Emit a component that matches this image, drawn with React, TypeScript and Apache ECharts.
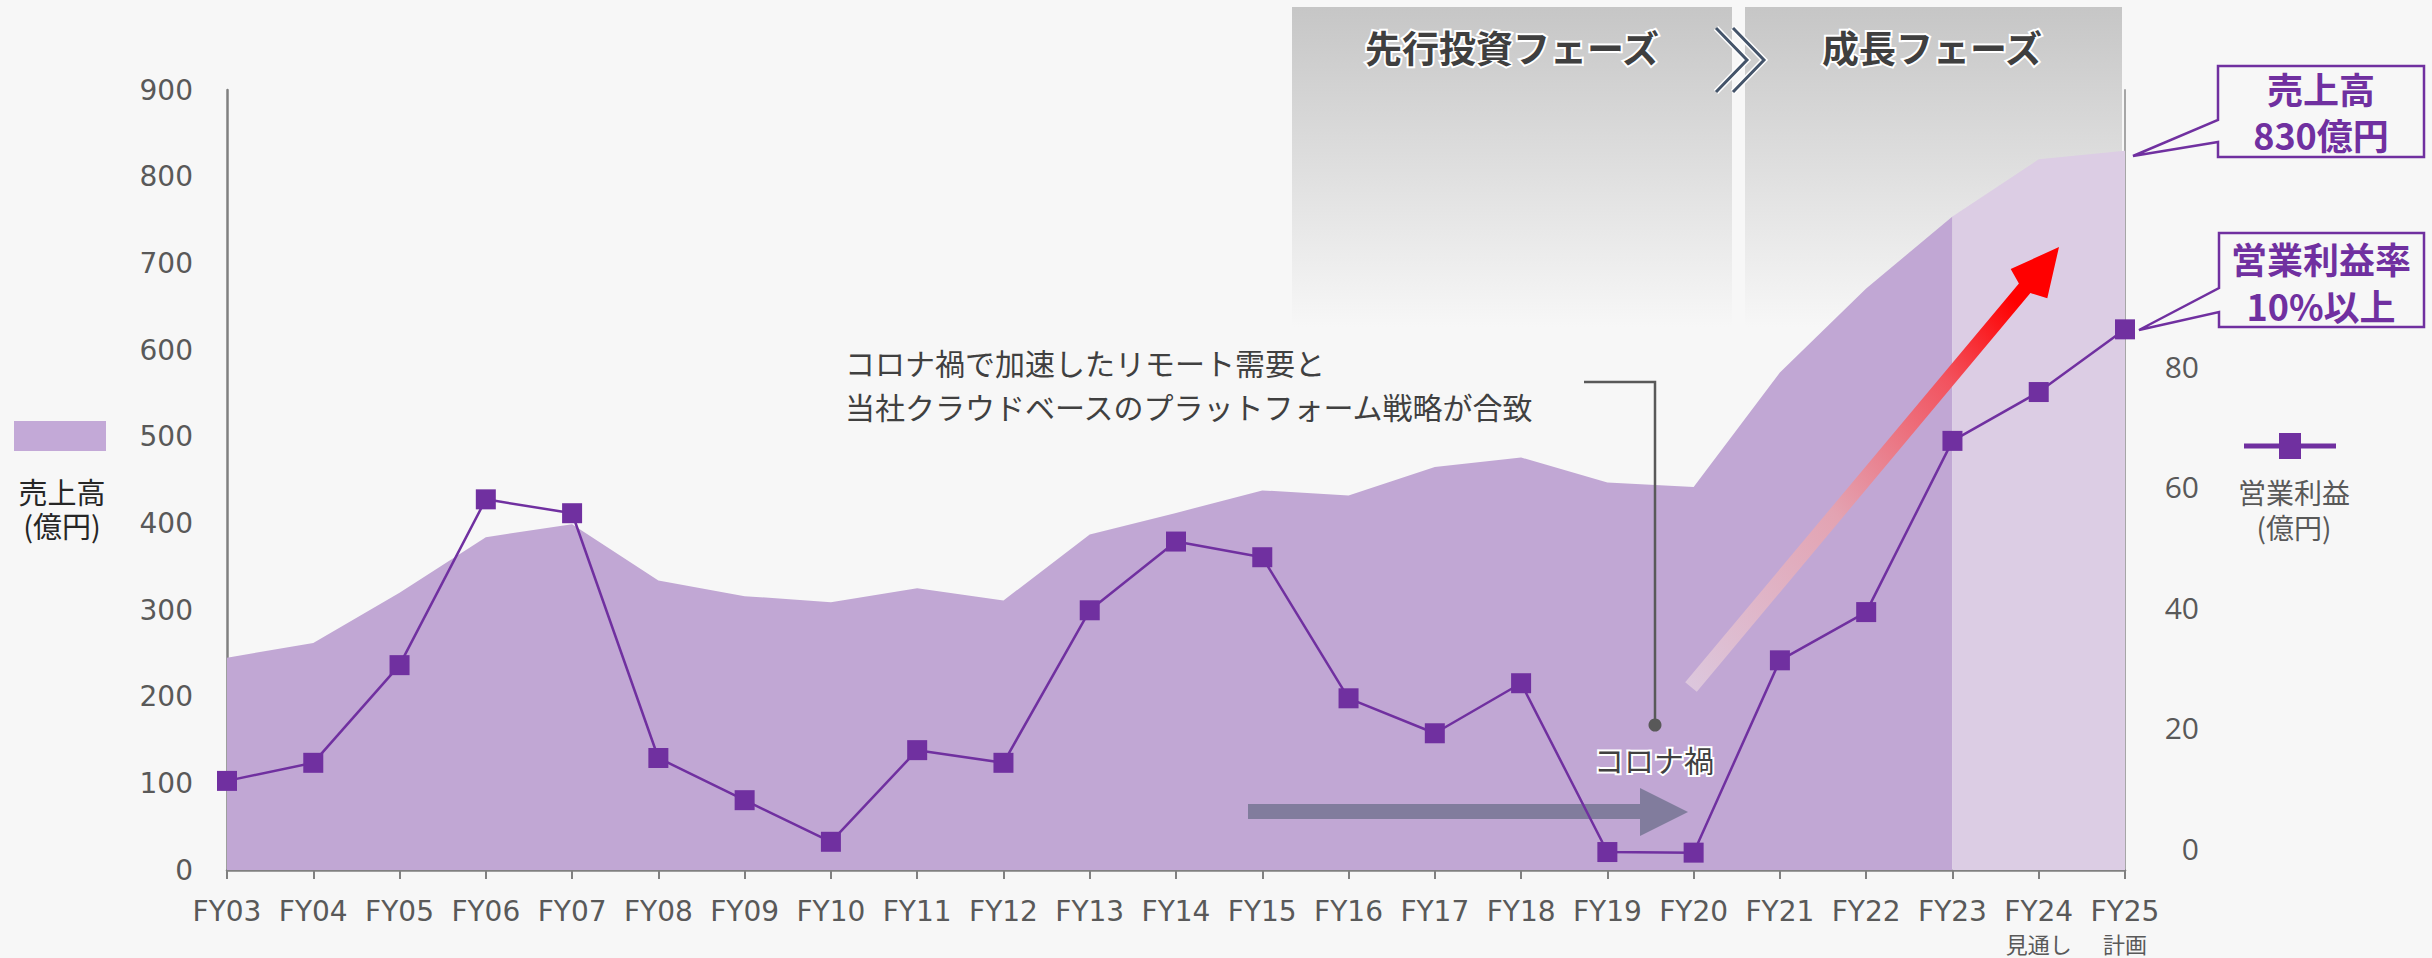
import React, { useEffect, useRef } from "react";
import * as echarts from "echarts";

const categories = ["FY03","FY04","FY05","FY06","FY07","FY08","FY09","FY10","FY11","FY12","FY13","FY14","FY15","FY16","FY17","FY18","FY19","FY20","FY21","FY22","FY23","FY24","FY25"];
const subLabels = ["","","","","","","","","","","","","","","","","","","","","","見通し","計画"];
// 売上高 (億円)
const revenue = [245,262,320,384,399,334,316,309,325,311,387,412,438,432,465,476,447,442,574,671,754,820,830];
// 営業利益 (億円)
const profit = [11.2,14.2,30.4,57.9,55.6,15.0,8.0,1.1,16.3,14.2,39.5,50.9,48.3,24.9,19.1,27.4,-0.6,-0.7,31.2,39.2,67.6,75.7,86.1];
const forecastStartIndex = 20; // FY23 onwards shaded lighter
const rightTicks = [0, 20, 40, 60, 80];

const purple = "#7030A0";
const bg = "#f7f7f7";
const jp = "'Noto Sans CJK JP', sans-serif";

function haloText(text: string, x: number, y: number, font: string, fill: string, halo: number, align = "center", z = 10) {
  return [
    { type: "text", x, y, z, silent: true, style: { text, font, fill: "#ffffff", stroke: "#ffffff", lineWidth: halo, textAlign: align, textVerticalAlign: "middle" } },
    { type: "text", x, y, z: z + 1, silent: true, style: { text, font, fill, textAlign: align, textVerticalAlign: "middle" } },
  ];
}

function plainText(text: string, x: number, y: number, font: string, fill: string, align = "center", lineHeight?: number, z = 10) {
  const style: any = { text, font, fill, textAlign: align, textVerticalAlign: "middle" };
  if (lineHeight) style.lineHeight = lineHeight;
  return { type: "text", x, y, z, silent: true, style };
}

export default function App() {
  const ref = useRef<HTMLDivElement>(null);
  useEffect(() => {
    document.body.style.margin = "0";
    document.body.style.background = bg;
    const chart = echarts.init(ref.current!, undefined, { renderer: "svg" });
    const actual = revenue.map((v, i) => (i <= forecastStartIndex ? v : "-"));
    const forecast = revenue.map((v, i) => (i >= forecastStartIndex ? v : "-"));

    const panelGrad = () =>
      new echarts.graphic.LinearGradient(0, 0, 0, 1, [
        { offset: 0, color: "#c6c6c6" },
        { offset: 1, color: bg },
      ]);
    const redGrad = new echarts.graphic.LinearGradient(0, 1, 1, 0, [
      { offset: 0, color: "#dcc8de" },
      { offset: 0.4, color: "#e3a3b2" },
      { offset: 0.7, color: "#f2535f" },
      { offset: 0.88, color: "#ff0000" },
      { offset: 1, color: "#ff0000" },
    ]);

    const graphics: any[] = [
      // phase panels
      { type: "rect", z: 0, silent: true, shape: { x: 1292, y: 7, width: 440, height: 320 }, style: { fill: panelGrad() } },
      { type: "rect", z: 0, silent: true, shape: { x: 1745, y: 7, width: 377, height: 320 }, style: { fill: panelGrad() } },
      ...haloText("先行投資フェーズ", 1512, 47, `bold 37px ${jp}`, "#3f3f3f", 4),
      ...haloText("成長フェーズ", 1932, 47, `bold 37px ${jp}`, "#3f3f3f", 4),
      // chevrons
      { type: "polyline", z: 10, silent: true, shape: { points: [[1716, 28], [1747, 60], [1716, 92]] }, style: { stroke: "#ffffff", lineWidth: 6, fill: "none" } },
      { type: "polyline", z: 11, silent: true, shape: { points: [[1716, 28], [1747, 60], [1716, 92]] }, style: { stroke: "#44546a", lineWidth: 3, fill: "none" } },
      { type: "polyline", z: 10, silent: true, shape: { points: [[1733, 28], [1764, 60], [1733, 92]] }, style: { stroke: "#ffffff", lineWidth: 6, fill: "none" } },
      { type: "polyline", z: 11, silent: true, shape: { points: [[1733, 28], [1764, 60], [1733, 92]] }, style: { stroke: "#44546a", lineWidth: 3, fill: "none" } },
      // left legend
      { type: "rect", z: 10, silent: true, shape: { x: 14, y: 421, width: 92, height: 30 }, style: { fill: "#c3a9d7" } },
      plainText("売上高\n(億円)", 62, 508, `29px ${jp}`, "#262626", "center", 34),
      // right legend
      { type: "line", z: 10, silent: true, shape: { x1: 2244, y1: 446, x2: 2336, y2: 446 }, style: { stroke: purple, lineWidth: 5 } },
      { type: "rect", z: 11, silent: true, shape: { x: 2279, y: 433, width: 22, height: 26 }, style: { fill: purple } },
      plainText("営業利益\n(億円)", 2294, 509, `28px ${jp}`, "#595959", "center", 35),
      // callouts
      { type: "polygon", z: 10, silent: true, shape: { points: [[2218, 66], [2424, 66], [2424, 157], [2218, 157], [2218, 142], [2133, 156], [2218, 120]] }, style: { fill: "none", stroke: purple, lineWidth: 2.5 } },
      plainText("売上高\n830億円", 2321, 111, `bold 36px ${jp}`, purple, "center", 46),
      { type: "polygon", z: 10, silent: true, shape: { points: [[2219, 233], [2424, 233], [2424, 327], [2219, 327], [2219, 312], [2139, 330], [2219, 288]] }, style: { fill: "none", stroke: purple, lineWidth: 2.5 } },
      plainText("営業利益率\n10%以上", 2321, 281, `bold 36px ${jp}`, purple, "center", 47),
      // annotation
      plainText("コロナ禍で加速したリモート需要と\n当社クラウドベースのプラットフォーム戦略が合致", 845, 384, `30px ${jp}`, "#404040", "left", 44),
      { type: "polyline", z: 10, silent: true, shape: { points: [[1584, 382], [1655, 382], [1655, 725]] }, style: { stroke: "#595959", lineWidth: 2.5, fill: "none" } },
      { type: "circle", z: 10, silent: true, shape: { cx: 1655, cy: 725, r: 6.5 }, style: { fill: "#595959" } },
      ...haloText("コロナ禍", 1654, 759, `30px ${jp}`, "#404040", 4),
      // grey arrow (between area and line)
      { type: "polygon", z: 2, silent: true, shape: { points: [[1248, 804], [1640, 804], [1640, 788], [1688, 812], [1640, 836], [1640, 819], [1248, 819]] }, style: { fill: "#817c9d" } },
      // red growth arrow
      { type: "polygon", z: 10, silent: true, shape: { points: [[1685.2, 682.2], [2018.9, 283.4], [2010.7, 269], [2059, 247], [2047.3, 298.3], [2030.4, 293.0], [1696.8, 691.8]] }, style: { fill: redGrad } },
    ];

    chart.setOption({
      animation: false,
      backgroundColor: bg,
      grid: { left: 227, right: 307, top: 90, bottom: 88, containLabel: false },
      xAxis: {
        type: "category",
        data: categories,
        boundaryGap: false,
        axisLine: { show: true, lineStyle: { color: "#808080", width: 2.5 } },
        axisTick: { show: true, length: 9, alignWithLabel: true, lineStyle: { color: "#808080", width: 2 } },
        axisLabel: {
          interval: 0,
          margin: 23,
          formatter: (v: string, i: number) => (subLabels[i] ? `{a|${v}}\n{b|${subLabels[i]}}` : `{a|${v}}`),
          rich: {
            a: { fontFamily: "DejaVu Sans", fontSize: 28, color: "#595959", lineHeight: 36 },
            b: { fontFamily: "Noto Sans CJK JP", fontSize: 22, color: "#595959", lineHeight: 28 },
          },
        },
        splitLine: { show: false },
      },
      yAxis: [
        {
          type: "value",
          min: 0,
          max: 900,
          interval: 100,
          position: "left",
          axisLine: { show: true, lineStyle: { color: "#808080", width: 2.5 } },
          axisTick: { show: false },
          splitLine: { show: false },
          axisLabel: { margin: 34, fontFamily: "DejaVu Sans", fontSize: 28, color: "#595959", padding: [0, 0, 12, 0] },
        },
        {
          type: "value",
          min: -3.58,
          max: 125.8,
          position: "right",
          axisLine: { show: true, lineStyle: { color: "#a6a6a6", width: 2 } },
          axisTick: { show: false },
          splitLine: { show: false },
          axisLabel: { customValues: rightTicks, margin: 74, align: "right", fontFamily: "Open Sans", fontSize: 30, color: "#595959" },
        },
      ],
      series: [
        {
          name: "売上高",
          type: "line",
          data: actual,
          yAxisIndex: 0,
          z: 1,
          symbol: "none",
          lineStyle: { width: 0 },
          areaStyle: { color: "#c1a7d4", opacity: 1 },
        },
        {
          name: "売上高見通し",
          type: "line",
          data: forecast,
          yAxisIndex: 0,
          z: 1,
          symbol: "none",
          lineStyle: { width: 0 },
          areaStyle: { color: "#dccde4", opacity: 1 },
        },
        {
          name: "営業利益",
          type: "line",
          data: profit,
          yAxisIndex: 1,
          z: 3,
          symbol: "rect",
          symbolSize: 20,
          itemStyle: { color: purple },
          lineStyle: { color: purple, width: 2.5 },
        },
      ],
      graphic: graphics,
    });
    return () => chart.dispose();
  }, []);
  return <div ref={ref} style={{ position: "absolute", left: 0, top: 0, width: 2432, height: 958 }} />;
}
